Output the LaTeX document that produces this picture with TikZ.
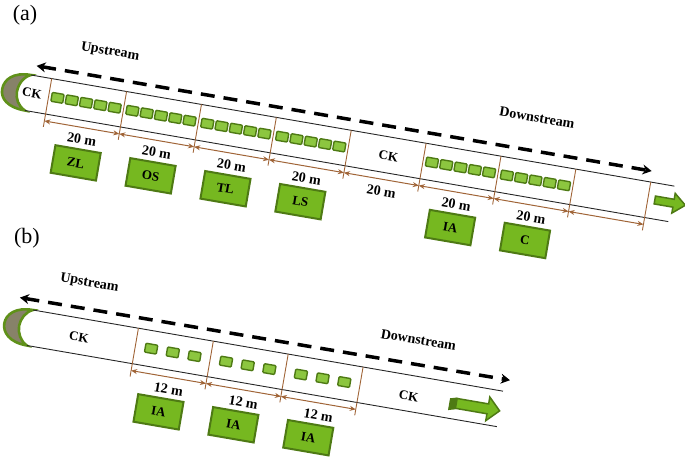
\documentclass[tikz,border=0pt]{standalone}
\usepackage{fontspec}
\setmainfont{Liberation Serif}
\usetikzlibrary{arrows.meta}
\definecolor{plotgreen}{RGB}{118,184,32}
\definecolor{darkgreen}{RGB}{78,122,20}
\definecolor{cellgreen}{RGB}{140,198,63}
\definecolor{dimbrown}{RGB}{160,100,55}
\definecolor{mudgrey}{RGB}{135,130,105}
\definecolor{rimgreen}{RGB}{95,145,25}
\begin{document}
\begin{tikzpicture}[x=1pt,y=1pt,
    plotbox/.style={rectangle,draw=darkgreen,line width=2pt,fill=plotgreen,
      minimum width=46pt,minimum height=28pt,inner sep=0pt,
      font=\fontsize{13}{15}\selectfont\bfseries},
    lenlabel/.style={inner sep=1pt,font=\fontsize{14}{16}\selectfont\bfseries},
    ditchlabel/.style={inner sep=1pt,font=\fontsize{13}{15}\selectfont\bfseries},
    cell/.style={rectangle,rounded corners=1pt,draw=darkgreen,line width=1.4pt,
      fill=cellgreen,minimum width=12pt,minimum height=9pt,inner sep=0pt},
    bank/.style={draw=black!85,line width=0.9pt},
    divider/.style={draw=dimbrown,line width=0.9pt},
    dimline/.style={draw=dimbrown,line width=1pt,
      {Stealth[length=6pt,width=5pt]}-{Stealth[length=6pt,width=5pt]}},
    flowline/.style={line width=3.5pt,dash pattern=on 14pt off 9pt,
      {Stealth[length=9pt,width=10pt]}-{Stealth[length=9pt,width=10pt]}},
    flowarrow/.style={fill=plotgreen,draw=darkgreen,line width=1.5pt,line join=miter},
    inlet/.style={fill=mudgrey,draw=rimgreen,line width=2.6pt}]
  \useasboundingbox (0,0) rectangle (685,458);
  \node[font=\fontsize{22}{24}\selectfont] (tag-a) at (25,443) {(a)};
  \node[font=\fontsize{22}{24}\selectfont] (tag-b) at (27,220) {(b)};
  % (a) long channel
  \begin{scope}[shift={(31,383)},rotate=-9.8,transform shape]
    \draw[inlet] (0,0) .. controls (-18,0) and (-26,-9) .. (-26,-19)
      .. controls (-26,-28) and (-18,-36) .. (0,-36)
      .. controls (-7,-33) and (-11,-26) .. (-11,-19)
      .. controls (-11,-11) and (-7,-3) .. cycle;
    \coordinate (a-tl) at (0,0);
    \coordinate (a-tr) at (653,0);
    \coordinate (a-bl) at (0,-36);
    \coordinate (a-br) at (653,-36);
    \draw[bank] (a-tl) -- (a-tr);
    \draw[bank] (a-bl) -- (a-br);
    \foreach \i in {0,...,8} {
      \coordinate (a-t\i) at ({21+76*\i},0);
      \coordinate (a-b\i) at ({21+76*\i},-49);
      \coordinate (a-m\i) at ({21+76*\i},-43);
      \draw[divider] (a-t\i) -- (a-b\i);
    }
    \foreach \i/\j in {0/1,1/2,2/3,3/4,4/5,5/6,6/7,7/8}
      \draw[dimline] (a-m\i) -- (a-m\j);
    \foreach \s in {0,1,2,3,5,6}
      \foreach \k in {-2,...,2}
        \node[cell] (a-c\s\k) at ({59+76*\s+14.5*\k},-18) {};
    \foreach \s in {0,...,6}
      \node[lenlabel] (a-len\s) at ({61+76*\s},-55) {20 m};
    \node[plotbox] (zl) at (59,-79) {ZL};
    \node[plotbox] (os) at (135,-79) {OS};
    \node[plotbox] (tl) at (211,-79) {TL};
    \node[plotbox] (ls) at (287,-79) {LS};
    \node[plotbox] (a-ia) at (439,-79) {IA};
    \node[plotbox] (cc) at (515,-79) {C};
    \node[ditchlabel] (a-ck1) at (4,-18) {CK};
    \node[ditchlabel] (a-ck2) at (366,-19) {CK};
    \node[lenlabel] (a-upstream) at (74,36) {Upstream};
    \node[lenlabel] (a-downstream) at (506,44) {Downstream};
    \coordinate (a-up) at (4,10);
    \coordinate (a-down) at (628,11);
    \draw[flowline] (a-up) -- (a-down);
    \draw[flowarrow] (636,-13) -- (655,-13) -- (655,-7) -- (667,-17)
      -- (655,-27) -- (655,-21) -- (636,-21) -- cycle;
  \end{scope}
  % (b) short channel
  \begin{scope}[shift={(33,148)},rotate=-9.8,transform shape]
    \draw[inlet] (0,0) .. controls (-18,0) and (-26,-9) .. (-26,-18)
      .. controls (-26,-27) and (-18,-36) .. (0,-36)
      .. controls (-7,-33) and (-11,-25) .. (-11,-18)
      .. controls (-11,-11) and (-7,-3) .. cycle;
    \coordinate (b-tl) at (0,0);
    \coordinate (b-tr) at (477,0);
    \coordinate (b-bl) at (0,-36);
    \coordinate (b-br) at (477,-36);
    \draw[bank] (b-tl) -- (b-tr);
    \draw[bank] (b-bl) -- (b-br);
    \foreach \i in {0,...,3} {
      \coordinate (b-t\i) at ({107+76*\i},0);
      \coordinate (b-b\i) at ({107+76*\i},-49);
      \coordinate (b-m\i) at ({107+76*\i},-43);
      \draw[divider] (b-t\i) -- (b-b\i);
    }
    \foreach \i/\j in {0/1,1/2,2/3}
      \draw[dimline] (b-m\i) -- (b-m\j);
    \foreach \s in {0,1,2} {
      \foreach \k in {-1,0,1}
        \node[cell] (b-c\s\k) at ({145+76*\s+22*\k},-18) {};
      \node[lenlabel] (b-len\s) at ({147+76*\s},-55) {12 m};
      \node[plotbox] (b-ia\s) at ({141+76*\s},-79) {IA};
    }
    \node[ditchlabel] (b-ck1) at (50,-19) {CK};
    \node[ditchlabel] (b-ck2) at (385,-21) {CK};
    \node[lenlabel] (b-upstream) at (51,36) {Upstream};
    \node[lenlabel] (b-downstream) at (385,36) {Downstream};
    \coordinate (b-up) at (-15,10);
    \coordinate (b-down) at (482,12);
    \draw[flowline] (b-up) -- (b-down);
    \fill[darkgreen] (426,-16) -- (433,-14) -- (433,-26) -- (426,-28) -- cycle;
    \draw[flowarrow] (433,-15) -- (465,-15) -- (465,-8) -- (477,-20)
      -- (465,-32) -- (465,-25) -- (433,-25) -- cycle;
  \end{scope}
\end{tikzpicture}
\end{document}
